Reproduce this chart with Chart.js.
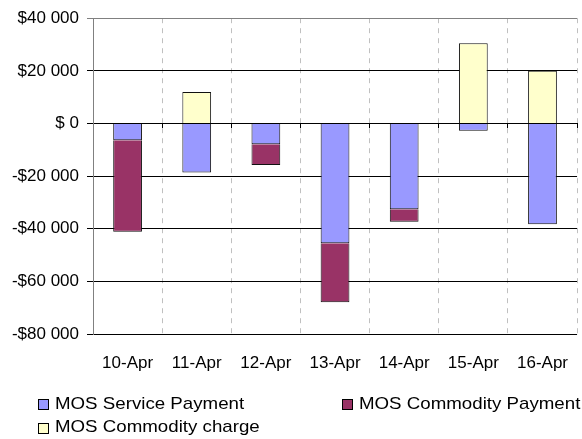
<!DOCTYPE html>
<html>
<head>
<meta charset="utf-8">
<script src="https://cdn.jsdelivr.net/npm/chart.js@4/dist/chart.umd.min.js"></script>
<style>
  html, body { margin: 0; padding: 0; background: #fff; overflow: hidden; }
  #wrap { width: 582px; height: 439px; overflow: hidden; }
  canvas { display: block; }
</style>
</head>
<body>
<div id="wrap"><canvas id="c" width="587" height="439"></canvas></div>
<script>
const categories = ['10-Apr', '11-Apr', '12-Apr', '13-Apr', '14-Apr', '15-Apr', '16-Apr'];
const seriesNames = ['MOS Service Payment', 'MOS Commodity Payment', 'MOS Commodity charge'];
const servicePayment = [-6400, -18600, -7900, -45500, -32600, -2800, -38300];
const commodityPayment = [-34700, null, -7900, -22400, -4700, null, null];
const commodityCharge = [null, 12000, null, null, null, 30500, 20000];
const yTicks = [-80000, -60000, -40000, -20000, 0, 20000, 40000];
const colors = ['#9999FF', '#993366', '#FFFFCC'];

const FONT = '"Liberation Sans", Arial, sans-serif';
Chart.defaults.font.family = FONT;
Chart.defaults.font.size = 17;
Chart.defaults.color = '#000';

function fmtMoney(v) {
  if (v === 0) return '$ 0';
  const a = Math.abs(v).toString().replace(/\B(?=(\d{3})+(?!\d))/g, ' ');
  return (v < 0 ? '-' : '') + '$' + a;
}

const legendPlugin = {
  id: 'excelLegend',
  afterDraw(chart) {
    const ctx = chart.ctx;
    const pos = [[38, 404], [342, 404], [38, 427.5]];
    chart.data.datasets.forEach((ds, i) => {
      const [x, y] = pos[i];
      ctx.save();
      ctx.fillStyle = ds.backgroundColor;
      ctx.fillRect(x, Math.round(y) - 5, 11, 11);
      ctx.strokeStyle = '#000';
      ctx.lineWidth = 1;
      ctx.strokeRect(x + 0.5, Math.round(y) - 4.5, 10, 10);
      ctx.fillStyle = '#000';
      ctx.font = '17px ' + FONT;
      ctx.textBaseline = 'middle';
      ctx.textAlign = 'left';
      ctx.translate(x + 17, y);
      ctx.scale(1.1, 1);
      ctx.fillText(ds.label, 0, 0);
      ctx.restore();
    });
  }
};

new Chart(document.getElementById('c'), {
  type: 'bar',
  data: {
    labels: categories,
    datasets: [
      { label: seriesNames[0], data: servicePayment, backgroundColor: colors[0] },
      { label: seriesNames[1], data: commodityPayment, backgroundColor: colors[1] },
      { label: seriesNames[2], data: commodityCharge, backgroundColor: colors[2] }
    ].map(d => Object.assign(d, {
      borderColor: '#111', borderWidth: 1, borderSkipped: 'start',
      categoryPercentage: 1, barPercentage: 0.416, xAxisID: 'x', yAxisID: 'y'
    }))
  },
  options: {
    responsive: false,
    animation: false,
    devicePixelRatio: 1,
    layout: { padding: { top: 17, bottom: 60, left: 0, right: 0 } },
    plugins: { legend: { display: false }, tooltip: { enabled: false } },
    scales: {
      x: {
        type: 'category',
        position: 'bottom',
        stacked: true,
        offset: true,
        grid: { display: true, offset: true, color: '#c0c0c0', lineWidth: 1, drawTicks: false },
        border: { display: false, dash: [5, 5] },
        ticks: { padding: 19, maxRotation: 0, autoSkip: false, font: { size: 17 } },
        afterFit: s => { s.height = 45; }
      },
      x2: {
        type: 'category',
        position: { y: 0 },
        offset: true,
        grid: { display: true, offset: true, drawOnChartArea: false, drawTicks: true, tickLength: 5, color: '#000' },
        border: { display: false },
        ticks: { display: false }
      },
      y: {
        type: 'linear',
        stacked: true,
        min: -80000,
        max: 40000,
        afterBuildTicks: s => { s.ticks = yTicks.map(v => ({ value: v })); },
        grid: {
          color: c => (c.tick && c.tick.value === 40000) ? '#808080' : '#000',
          lineWidth: 1, drawTicks: true, tickLength: 6
        },
        border: { display: true, color: '#808080', width: 1 },
        ticks: { padding: 8, font: { size: 17 }, callback: v => fmtMoney(v) },
        afterFit: s => { s.width = 93; }
      }
    }
  },
  plugins: [legendPlugin]
});
</script>
</body>
</html>
